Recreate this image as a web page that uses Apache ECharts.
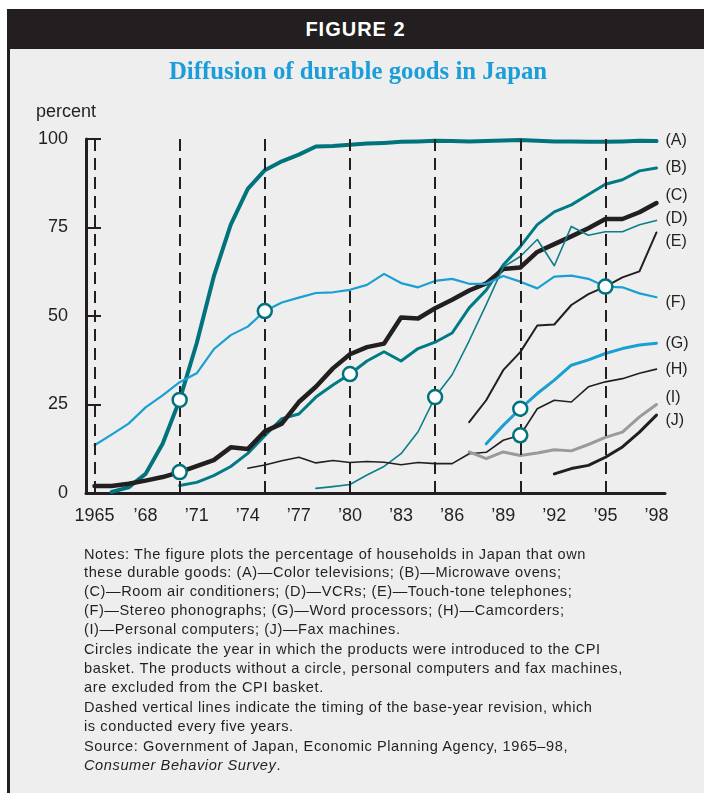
<!DOCTYPE html>
<html>
<head>
<meta charset="utf-8">
<script src="https://cdn.jsdelivr.net/npm/echarts@6/dist/echarts.min.js"></script>
<style>
  html, body { margin: 0; padding: 0; background: #fff; }
  body { width: 704px; height: 793px; position: relative; overflow: hidden; font-family: 'Liberation Sans', Arial, sans-serif; }
  #frame { position: absolute; left: 7px; top: 9px; width: 697px; height: 784px; background: #eeeeee; border-left: 3px solid #231f20; box-sizing: border-box; }
  #bar { position: absolute; left: 7px; top: 9px; width: 697px; height: 40px; background: #231f20; color: #fff; font: bold 20px 'Liberation Sans', Arial, sans-serif; text-align: center; line-height: 40px; letter-spacing: 1px; }
  #chart { position: absolute; left: 0; top: 0; width: 704px; height: 793px; }
  #notes { position: absolute; left: 84px; top: 544.5px; width: 618px; font-size: 14.6px; letter-spacing: 0.58px; line-height: 18.8px; color: #231f20; }
  #notes p { margin: 0 0 1.6px 0; }
</style>
</head>
<body>
<div id="frame"></div>
<div id="bar">FIGURE 2</div>
<div id="chart"></div>
<div id="notes">
  <p>Notes: The figure plots the percentage of households in Japan that own<br>
  these durable goods: (A)—Color televisions; (B)—Microwave ovens;<br>
  (C)—Room air conditioners; (D)—VCRs; (E)—Touch-tone telephones;<br>
  (F)—Stereo phonographs; (G)—Word processors; (H)—Camcorders;<br>
  (I)—Personal computers; (J)—Fax machines.</p>
  <p>Circles indicate the year in which the products were introduced to the CPI<br>
  basket. The products without a circle, personal computers and fax machines,<br>
  are excluded from the CPI basket.</p>
  <p>Dashed vertical lines indicate the timing of the base-year revision, which<br>
  is conducted every five years.</p>
  <p>Source: Government of Japan, Economic Planning Agency, 1965–98,<br>
  <i>Consumer Behavior Survey</i>.</p>
</div>
<script>
const years = ['1965', '1966', '1967', '1968', '1969', '1970', '1971', '1972', '1973', '1974',
  '1975', '1976', '1977', '1978', '1979', '1980', '1981', '1982', '1983', '1984',
  '1985', '1986', '1987', '1988', '1989', '1990', '1991', '1992', '1993', '1994',
  '1995', '1996', '1997', '1998']

const revisionYears = ['1965', '1970', '1975', '1980', '1985', '1990', '1995']

// percent of households, 1965..1998 (null = not surveyed)
const colorTV = [null, 0.3, 1.6, 5.4, 13.9, 26.3, 42.3, 61.1, 75.8, 85.9,
  91.2, 93.7, 95.6, 97.9, 98.0, 98.4, 98.7, 98.9, 99.2, 99.3,
  99.5, 99.4, 99.3, 99.4, 99.6, 99.7, 99.5, 99.3, 99.3, 99.2,
  99.2, 99.3, 99.5, 99.4]
const microwave = [null, null, null, null, null, 2.1, 3.0, 4.9, 7.5, 11.2,
  16.2, 21.0, 22.3, 27.1, 30.5, 33.6, 37.3, 39.9, 37.3, 40.8,
  42.6, 45.2, 52.3, 57.3, 64.4, 69.6, 75.8, 79.4, 81.4, 84.3,
  87.2, 88.5, 91.0, 91.8]
const aircon = [2.0, 2.0, 2.6, 3.5, 4.5, 5.9, 7.6, 9.3, 12.9, 12.4,
  17.4, 19.6, 25.7, 30.0, 35.2, 39.2, 41.2, 42.2, 49.6, 49.3,
  52.2, 54.6, 57.2, 59.2, 63.3, 63.7, 68.1, 70.3, 72.5, 74.8,
  77.4, 77.4, 79.3, 81.9]
const vcr = [null, null, null, null, null, null, null, null, null, null,
  null, null, null, 1.3, 1.8, 2.4, 5.1, 7.5, 11.1, 17.3,
  27.1, 33.4, 43.0, 53.2, 63.8, 66.8, 71.6, 64.2, 75.3, 72.8,
  73.8, 73.8, 75.8, 77.0]
const touchTone = [null, null, null, null, null, null, null, null, null, null,
  null, null, null, null, null, null, null, null, null, null,
  null, null, 20.0, 26.2, 34.7, 39.8, 47.3, 47.6, 53.1, 56.2,
  58.3, 60.9, 62.6, 73.6]
const stereo = [13.5, 16.5, 19.6, 24.2, 27.6, 31.3, 33.8, 40.6, 44.6, 47.0,
  51.4, 53.8, 55.2, 56.5, 56.7, 57.4, 58.8, 61.9, 59.3, 58.1,
  59.9, 60.5, 59.1, 59.1, 61.3, 59.7, 57.8, 61.1, 61.4, 60.5,
  58.3, 58.1, 56.4, 55.3]
const wordProc = [null, null, null, null, null, null, null, null, null, null,
  null, null, null, null, null, null, null, null, null, null,
  null, null, null, 13.9, 19.1, 23.8, 28.1, 31.9, 36.1, 37.6,
  39.4, 40.8, 41.8, 42.3]
const camcorder = [null, null, null, null, null, null, null, null, null, 7.0,
  7.9, 9.1, 10.1, 8.5, 9.2, 8.6, 8.9, 8.7, 8.0, 8.6,
  8.3, 8.3, 11.1, 11.5, 14.9, 16.3, 23.8, 26.2, 25.7, 30.0,
  31.4, 32.3, 33.8, 35.0]
const pc = [null, null, null, null, null, null, null, null, null, null,
  null, null, null, null, null, null, null, null, null, null,
  null, null, 11.6, 9.7, 11.6, 10.6, 11.3, 12.2, 11.9, 13.7,
  15.7, 17.2, 21.5, 25.0]
const fax = [null, null, null, null, null, null, null, null, null, null,
  null, null, null, null, null, null, null, null, null, null,
  null, null, null, null, null, null, null, 5.4, 6.9, 7.8,
  10.1, 13.0, 17.2, 22.0]

const seriesLabels = ['(A)', '(B)', '(C)', '(D)', '(E)', '(F)', '(G)', '(H)', '(I)', '(J)']
const seriesData = [colorTV, microwave, aircon, vcr, touchTone, stereo, wordProc, camcorder, pc, fax]
// year each product entered the CPI basket (null = excluded)
const cpiYears = ['1970', '1980', '1970', '1985', '1995', '1975', '1990', '1990', null, null]

const teal = '#00737d'
const lightBlue = '#1a9fd2'
const ink = '#231f20'
const lineColors = [teal, '#007b86', ink, '#0d7e89', ink, lightBlue, lightBlue, ink, '#9a9a9a', ink]
const lineWidths = [4, 3, 4.5, 1.6, 2, 2.2, 3, 1.6, 3, 3]
// vertical nudge of the right-hand letters
const labelShift = [-1, 0, -7, -2, 9, 5, 0, 0, -7, 5]

let series = []

series.push({
  type: 'line',
  data: years.map(() => null),
  silent: true,
  z: 1,
  markLine: {
    symbol: ['none', 'none'],
    silent: true,
    label: {show: false},
    lineStyle: {color: ink, width: 2, type: [12, 7]},
    data: revisionYears.map(y => ({xAxis: y}))
  }
})

for (let i = 0; i < seriesData.length; i++) {
  series.push({
    name: seriesLabels[i],
    type: 'line',
    data: seriesData[i],
    showSymbol: false,
    connectNulls: false,
    z: 3,
    lineStyle: {color: lineColors[i], width: lineWidths[i], cap: 'round', join: 'round'},
    itemStyle: {color: lineColors[i]},
    endLabel: {
      show: true,
      formatter: seriesLabels[i],
      distance: 9,
      offset: [0, labelShift[i]],
      fontSize: 16,
      color: ink,
      fontFamily: 'Liberation Sans'
    }
  })
}

let circles = []
for (let i = 0; i < cpiYears.length; i++) {
  if (cpiYears[i]) {
    circles.push([cpiYears[i], seriesData[i][years.indexOf(cpiYears[i])]])
  }
}
series.push({
  type: 'scatter',
  data: circles,
  symbol: 'circle',
  symbolSize: 14,
  z: 10,
  itemStyle: {color: '#fff', borderColor: teal, borderWidth: 2.5, opacity: 1}
})

const option = {
  animation: false,
  title: [{
    text: 'Diffusion of durable goods in Japan',
    left: 353,
    top: 55,
    textAlign: 'center',
    textStyle: {fontFamily: 'Liberation Serif', fontWeight: 'bold', fontSize: 24.8, color: '#1b9dd9'}
  }, {
    text: 'percent',
    left: 31,
    top: 98,
    textStyle: {fontFamily: 'Liberation Sans', fontWeight: 'normal', fontSize: 18, color: ink}
  }],
  grid: {left: 86, right: 39, top: 139, bottom: 300, outerBoundsMode: 'none'},
  xAxis: {
    type: 'category',
    data: years,
    boundaryGap: true,
    axisLine: {lineStyle: {color: ink, width: 3}},
    axisTick: {inside: true, length: 8, interval: 0, lineStyle: {color: ink, width: 2}},
    axisLabel: {
      interval: 2,
      margin: 14,
      fontSize: 18,
      color: ink,
      fontFamily: 'Liberation Sans',
      formatter: v => v === '1965' ? v : '\u2019' + v.slice(2)
    },
    splitLine: {show: false}
  },
  yAxis: {
    type: 'value',
    min: 0,
    max: 100,
    interval: 25,
    axisLine: {show: true, lineStyle: {color: ink, width: 3}},
    axisTick: {show: true, inside: true, length: 15, lineStyle: {color: ink, width: 2}},
    axisLabel: {margin: 18, fontSize: 18, color: ink, fontFamily: 'Liberation Sans'},
    splitLine: {show: false}
  },
  series: series
}

const myChart = echarts.init(document.getElementById('chart'))
myChart.setOption(option)
</script>
</body>
</html>
